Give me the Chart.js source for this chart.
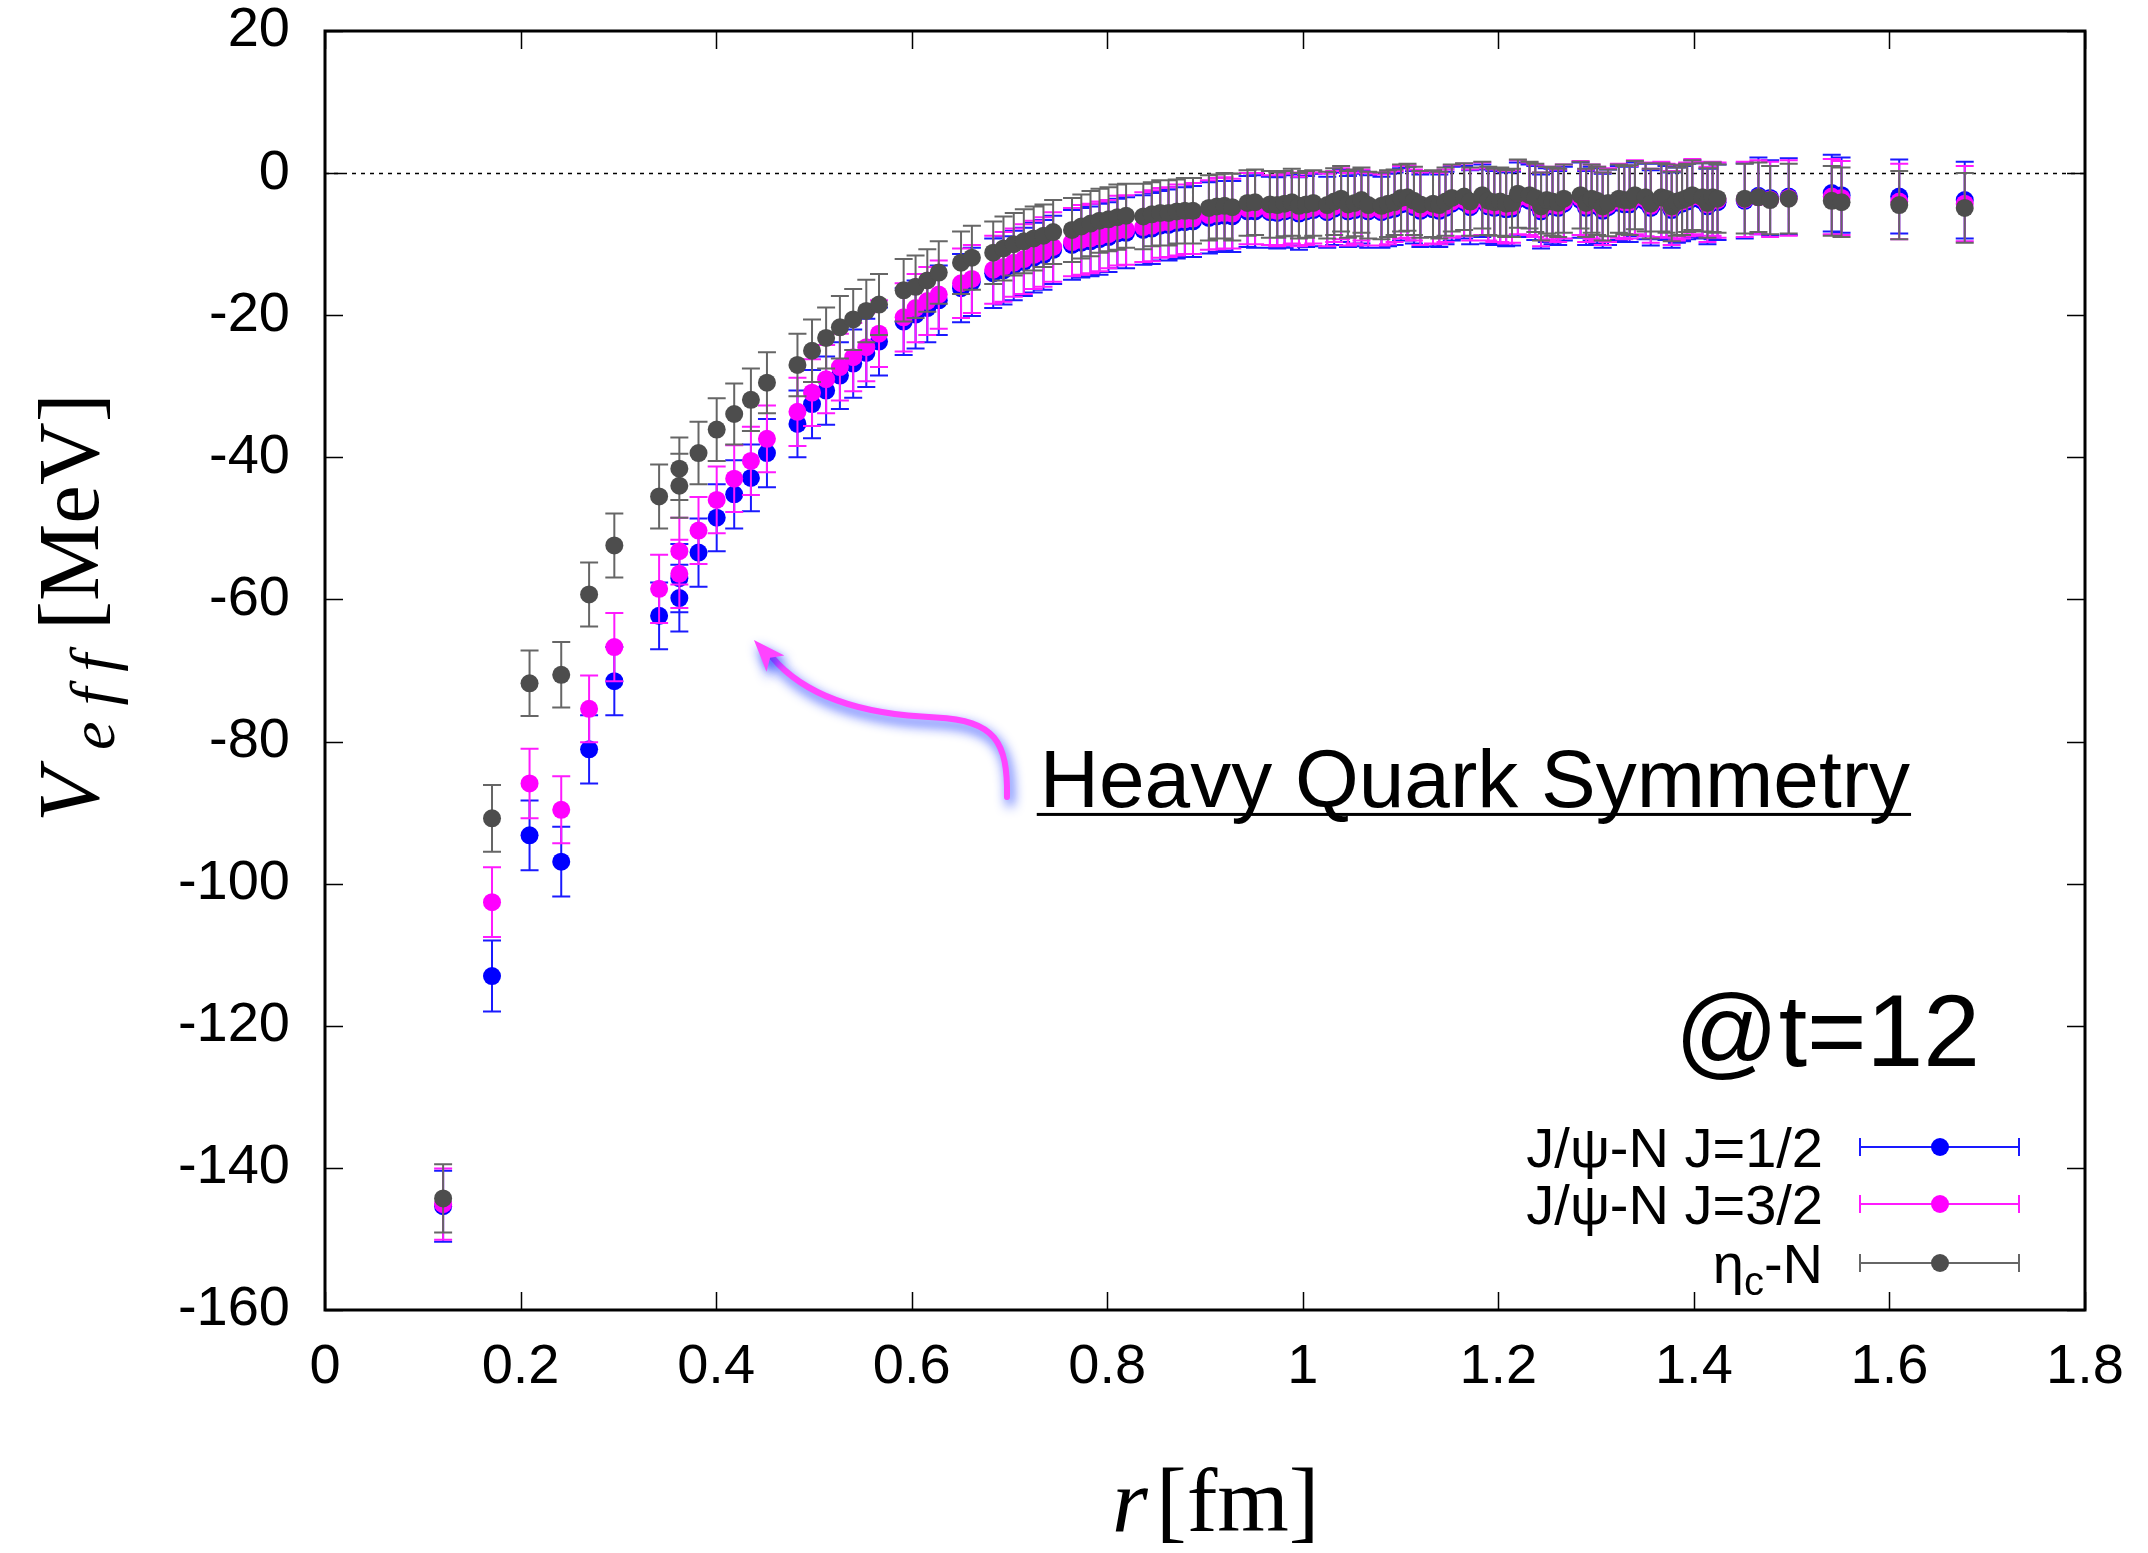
<!DOCTYPE html>
<html><head><meta charset="utf-8">
<script src="https://cdn.jsdelivr.net/npm/chart.js@4.4.0/dist/chart.umd.min.js"></script>
<style>html,body{margin:0;padding:0;background:#fff;}canvas{display:block;}</style>
</head><body>
<canvas id="c" width="2148" height="1553" style="width:2148px;height:1553px"></canvas>
<script>
// ---------- data ----------
const r = [
0.1208,0.1708,0.2092,0.2416,0.2701,0.2959,0.3417,0.3624,0.3624,0.3820,
0.4006,0.4185,0.4356,0.4520,0.4832,0.4981,0.5125,0.5266,0.5402,0.5536,
0.5666,0.5918,0.6040,0.6160,0.6277,0.6505,0.6616,0.6834,0.6939,0.7044,
0.7147,0.7248,0.7348,0.7447,0.7640,0.7735,0.7829,0.7921,0.8013,0.8104,
0.8193,0.8369,0.8456,0.8542,0.8627,0.8711,0.8794,0.8877,0.9040,0.9120,
0.9200,0.9279,0.9435,0.9512,0.9664,0.9739,0.9814,0.9888,0.9961,1.0034,
1.0107,1.0250,1.0321,1.0392,1.0462,1.0531,1.0600,1.0669,1.0805,1.0872,
1.0939,1.1005,1.1071,1.1137,1.1203,1.1332,1.1396,1.1460,1.1524,1.1650,
1.1712,1.1836,1.1897,1.1959,1.2019,1.2080,1.2140,1.2200,1.2319,1.2378,
1.2437,1.2496,1.2554,1.2612,1.2670,1.2841,1.2898,1.2954,1.3011,1.3067,
1.3122,1.3233,1.3288,1.3343,1.3397,1.3506,1.3559,1.3667,1.3720,1.3773,
1.3826,1.3879,1.3931,1.3984,1.4088,1.4139,1.4191,1.4242,1.452,1.466,
1.478,1.497,1.541,1.551,1.610,1.677];

const vJ12 = [
-145.4,-113.0,-93.2,-96.9,-81.1,-71.5,-62.3,-57.0,-59.8,-53.4,
-48.5,-45.2,-42.9,-39.4,-35.3,-32.5,-30.6,-28.5,-26.8,-25.3,
-23.7,-20.9,-19.9,-19.0,-17.9,-16.2,-15.3,-14.1,-13.7,-13.0,
-12.5,-11.9,-11.5,-10.8,-10.1,-9.8,-9.6,-9.3,-9.0,-8.5,
-8.4,-8.0,-7.8,-7.4,-7.3,-7.0,-6.9,-6.8,-6.3,-6.1,
-6.0,-6.1,-5.4,-5.4,-5.5,-5.6,-5.4,-5.2,-5.7,-5.4,
-5.2,-5.5,-5.0,-4.6,-5.4,-5.2,-4.8,-5.4,-5.5,-5.2,
-5.0,-4.4,-4.3,-4.8,-5.3,-5.1,-5.3,-4.9,-4.3,-4.1,
-4.8,-3.9,-4.7,-4.9,-4.8,-5.1,-5.0,-3.7,-3.9,-4.2,
-5.4,-4.5,-4.7,-4.9,-4.3,-3.8,-4.9,-4.3,-4.6,-5.3,
-4.8,-4.2,-4.4,-4.4,-3.7,-4.0,-4.9,-4.0,-4.2,-5.2,
-4.5,-4.3,-4.0,-3.6,-3.9,-4.7,-3.9,-4.1,-3.9,-3.2,
-3.5,-3.3,-2.8,-3.1,-3.3,-3.8];
const eJ12 = [
5.0,5.0,4.9,4.9,4.8,4.8,4.7,4.8,4.7,4.8,
4.7,4.8,4.7,4.8,4.7,4.8,4.8,4.7,4.8,4.8,
4.8,4.7,4.8,4.8,4.9,4.8,4.8,4.9,4.8,4.9,
4.8,4.9,4.9,4.8,4.9,4.9,4.9,5.0,4.9,4.9,
5.0,4.9,5.0,4.9,5.0,5.0,4.9,5.0,5.0,5.0,
4.9,5.0,5.0,5.1,5.0,5.0,5.1,5.0,5.1,5.0,
5.1,5.0,5.1,5.1,5.0,5.1,5.1,5.1,5.0,5.1,
5.1,5.1,5.2,5.1,5.1,5.2,5.1,5.1,5.2,5.1,
5.2,5.1,5.2,5.2,5.1,5.2,5.2,5.2,5.1,5.2,
5.2,5.2,5.3,5.2,5.2,5.3,5.2,5.2,5.3,5.2,
5.3,5.2,5.3,5.3,5.2,5.3,5.3,5.3,5.2,5.3,
5.3,5.3,5.3,5.4,5.3,5.3,5.4,5.3,5.3,5.4,
5.3,5.4,5.4,5.3,5.2,5.4];

const vJ32 = [
-145.1,-102.6,-85.9,-89.6,-75.4,-66.7,-58.5,-53.2,-56.4,-50.3,
-46.0,-43.0,-40.5,-37.4,-33.6,-30.9,-29.0,-27.3,-25.9,-24.5,
-22.6,-20.3,-19.0,-18.0,-17.1,-15.5,-14.9,-13.6,-13.2,-12.6,
-12.1,-11.5,-11.1,-10.4,-9.7,-9.4,-9.2,-8.9,-8.6,-8.1,
-8.0,-7.6,-7.4,-7.0,-6.9,-6.6,-6.5,-6.4,-5.9,-5.7,
-5.6,-5.7,-5.0,-5.0,-5.2,-5.3,-5.1,-4.9,-5.4,-5.1,
-4.9,-5.2,-4.7,-4.3,-5.1,-4.9,-4.5,-5.1,-5.2,-4.9,
-4.7,-4.1,-4.0,-4.5,-5.0,-4.8,-5.0,-4.6,-4.0,-3.8,
-4.5,-3.6,-4.4,-4.6,-4.5,-4.8,-4.7,-3.4,-3.6,-3.9,
-5.1,-4.2,-4.4,-4.6,-4.0,-3.5,-4.6,-4.0,-4.3,-5.0,
-4.5,-3.9,-4.1,-4.1,-3.4,-3.7,-4.6,-3.7,-3.9,-4.9,
-4.2,-4.0,-3.7,-3.3,-3.6,-4.4,-3.6,-3.8,-3.7,-3.4,
-3.7,-3.5,-3.3,-3.5,-4.0,-4.3];
const eJ32 = [
5.0,4.9,4.9,4.7,4.7,4.8,4.8,4.7,4.8,4.7,
4.7,4.7,4.8,4.7,4.8,4.7,4.8,4.7,4.8,4.8,
4.7,4.8,4.8,4.8,4.8,4.9,4.8,4.8,4.9,4.8,
4.9,4.8,4.9,4.9,4.8,4.9,4.9,4.9,4.8,4.9,
4.9,4.9,5.0,4.9,4.9,5.0,4.9,5.0,4.9,5.0,
5.0,4.9,5.0,5.0,4.9,5.0,5.0,5.0,4.9,5.0,
5.0,5.1,5.0,5.0,5.1,5.0,5.0,5.1,5.0,5.1,
5.0,5.1,5.1,5.0,5.1,5.1,5.0,5.1,5.1,5.1,
5.0,5.1,5.1,5.1,5.2,5.1,5.1,5.2,5.1,5.1,
5.2,5.1,5.2,5.1,5.2,5.2,5.1,5.2,5.2,5.1,
5.2,5.2,5.2,5.1,5.2,5.2,5.2,5.3,5.2,5.2,
5.3,5.2,5.2,5.3,5.2,5.3,5.2,5.3,5.3,5.2,
5.3,5.3,5.3,5.2,5.3,5.3];

const vEta = [
-144.3,-90.8,-71.8,-70.6,-59.3,-52.4,-45.5,-41.6,-44.0,-39.4,
-36.1,-33.9,-31.9,-29.5,-27.0,-25.0,-23.2,-21.7,-20.6,-19.4,
-18.5,-16.5,-16.0,-15.1,-14.0,-12.6,-11.9,-11.2,-10.6,-10.0,
-9.6,-9.2,-8.8,-8.3,-8.0,-7.5,-7.1,-6.7,-6.5,-6.2,
-6.0,-6.1,-5.8,-5.6,-5.6,-5.4,-5.3,-5.3,-4.9,-4.7,
-4.6,-4.8,-4.2,-4.1,-4.4,-4.5,-4.3,-4.1,-4.6,-4.4,
-4.2,-4.5,-4.0,-3.6,-4.4,-4.2,-3.8,-4.5,-4.6,-4.3,
-4.1,-3.5,-3.4,-3.9,-4.4,-4.3,-4.5,-4.0,-3.5,-3.3,
-4.0,-3.1,-3.9,-4.1,-4.0,-4.3,-4.2,-2.9,-3.1,-3.5,
-4.7,-3.8,-4.0,-4.2,-3.6,-3.1,-4.2,-3.6,-3.9,-4.7,
-4.2,-3.6,-3.8,-3.8,-3.1,-3.4,-4.3,-3.4,-3.6,-4.7,
-4.0,-3.8,-3.5,-3.1,-3.4,-4.2,-3.4,-3.6,-3.6,-3.4,
-3.8,-3.6,-3.9,-4.1,-4.5,-4.9];
const eEta = [
4.8,4.7,4.6,4.6,4.5,4.5,4.5,4.4,4.5,4.4,
4.4,4.3,4.4,4.3,4.4,4.4,4.3,4.4,4.3,4.4,
4.3,4.4,4.4,4.4,4.4,4.4,4.5,4.4,4.5,4.4,
4.5,4.5,4.4,4.5,4.5,4.5,4.6,4.5,4.5,4.6,
4.5,4.6,4.5,4.6,4.6,4.5,4.6,4.6,4.6,4.5,
4.6,4.7,4.6,4.6,4.7,4.6,4.6,4.7,4.6,4.7,
4.6,4.7,4.7,4.6,4.7,4.7,4.6,4.7,4.7,4.7,
4.6,4.7,4.7,4.8,4.7,4.7,4.7,4.8,4.7,4.7,
4.8,4.7,4.8,4.7,4.8,4.7,4.8,4.8,4.7,4.8,
4.8,4.7,4.8,4.8,4.8,4.7,4.8,4.8,4.8,4.8,
4.7,4.8,4.8,4.9,4.8,4.8,4.9,4.8,4.8,4.9,
4.8,4.9,4.8,4.9,4.8,4.9,4.9,4.8,4.9,4.9,
4.8,4.9,4.9,4.9,4.8,4.9];

const seriesNames  = ['J/ψ-N J=1/2', 'J/ψ-N J=3/2', 'η_c-N'];
const seriesColors = ['#0000ff', '#ff00ff', '#4d4d4d'];
const errColors    = ['#1a1aff', '#ff1aff', '#666666'];

const xTickValues = [0, 0.2, 0.4, 0.6, 0.8, 1, 1.2, 1.4, 1.6, 1.8];
const xTickLabels = ['0', '0.2', '0.4', '0.6', '0.8', '1', '1.2', '1.4', '1.6', '1.8'];
const yTickValues = [-160, -140, -120, -100, -80, -60, -40, -20, 0, 20];
const yTickLabels = ['-160', '-140', '-120', '-100', '-80', '-60', '-40', '-20', '0', '20'];

const noteText = 'Heavy Quark Symmetry';
const noteAt = {x: 0.731, y: -89.2};
const timeText = '@t=12';
const timeAt = {x: 1.6926, y: -125.7};
// arrow (data coordinates): start, two cubic segments, tip
const arrowStart = {x: 0.6975, y: -87.8};
const arrowSeg = [
  [{x: 0.6985, y: -80.0}, {x: 0.685, y: -77.0}, {x: 0.625, y: -76.6}],
  [{x: 0.545, y: -76.2}, {x: 0.490, y: -73.5}, {x: 0.457, y: -68.1}]
];
const arrowTip = {x: 0.4387, y: -65.7};

// ---------- helpers ----------
const SANS = '"Liberation Sans", Arial, Helvetica, sans-serif';
const SERIF = '"Liberation Serif", "Times New Roman", serif';

function pts(vals) { return r.map((x, i) => ({x: x, y: vals[i]})); }

function drawRich(ctx, label, xRight, yBase, size) {
  const parts = [];
  const m = label.split('_');
  parts.push({t: m[0], sub: false});
  if (m.length > 1) {
    parts.push({t: m[1].charAt(0), sub: true});
    parts.push({t: m[1].slice(1), sub: false});
  }
  const fMain = size + 'px ' + SANS, fSub = Math.round(size * 0.72) + 'px ' + SANS;
  let w = 0;
  parts.forEach(p => { ctx.font = p.sub ? fSub : fMain; p.w = ctx.measureText(p.t).width; w += p.w; });
  let x = xRight - w;
  ctx.textAlign = 'left';
  ctx.textBaseline = 'alphabetic';
  parts.forEach(p => {
    ctx.font = p.sub ? fSub : fMain;
    ctx.fillText(p.t, x, yBase + (p.sub ? size * 0.22 : 0));
    x += p.w;
  });
}

const errPlugin = {
  id: 'errbars',
  beforeDatasetsDraw(chart) {
    const {ctx, chartArea: a, scales: {y: sy}} = chart;
    ctx.save();
    ctx.strokeStyle = '#000';
    ctx.lineWidth = 1.5;
    ctx.setLineDash([4, 5]);
    const y0 = Math.round(sy.getPixelForValue(0)) + 0.5;
    ctx.beginPath(); ctx.moveTo(a.left, y0); ctx.lineTo(a.right, y0); ctx.stroke();
    ctx.restore();
  },
  beforeDatasetDraw(chart, args) {
    const ds = chart.data.datasets[args.index];
    const {ctx, chartArea: a, scales: {x: sx, y: sy}} = chart;
    ctx.save();
    ctx.beginPath(); ctx.rect(a.left, a.top, a.right - a.left, a.bottom - a.top); ctx.clip();
    ctx.strokeStyle = ds.errColor;
    ctx.lineWidth = 2;
    ctx.beginPath();
    ds.data.forEach((p, i) => {
      const e = ds.errs[i];
      const px = sx.getPixelForValue(p.x);
      const y1 = sy.getPixelForValue(p.y + e), y2 = sy.getPixelForValue(p.y - e);
      ctx.moveTo(px, y1); ctx.lineTo(px, y2);
      ctx.moveTo(px - 9, y1); ctx.lineTo(px + 9, y1);
      ctx.moveTo(px - 9, y2); ctx.lineTo(px + 9, y2);
    });
    ctx.stroke();
    ctx.restore();
  },
  afterDraw(chart) {
    const {ctx, chartArea: a, scales: {x: sx, y: sy}} = chart;
    ctx.save();
    // inward ticks on all four sides
    ctx.strokeStyle = '#000';
    ctx.lineWidth = 1.5;
    ctx.beginPath();
    xTickValues.forEach(v => {
      const px = Math.round(sx.getPixelForValue(v)) + 0.5;
      ctx.moveTo(px, a.bottom); ctx.lineTo(px, a.bottom - 18);
      ctx.moveTo(px, a.top); ctx.lineTo(px, a.top + 18);
    });
    yTickValues.forEach(v => {
      const py = Math.round(sy.getPixelForValue(v)) + 0.5;
      ctx.moveTo(a.left, py); ctx.lineTo(a.left + 18, py);
      ctx.moveTo(a.right, py); ctx.lineTo(a.right - 18, py);
    });
    ctx.stroke();
    ctx.lineWidth = 3;
    ctx.strokeRect(a.left, a.top, a.right - a.left, a.bottom - a.top);

    // legend
    const rows = [1147, 1204, 1263];
    seriesNames.forEach((name, i) => {
      const yy = rows[i];
      ctx.fillStyle = '#000';
      drawRich(ctx, name, 1823, yy + 20, 56);
      ctx.strokeStyle = errColors[i];
      ctx.lineWidth = 2;
      ctx.beginPath();
      ctx.moveTo(1860, yy); ctx.lineTo(2019, yy);
      ctx.moveTo(1860, yy - 9); ctx.lineTo(1860, yy + 9);
      ctx.moveTo(2019, yy - 9); ctx.lineTo(2019, yy + 9);
      ctx.stroke();
      ctx.fillStyle = seriesColors[i];
      ctx.beginPath(); ctx.arc(1940, yy, 9, 0, Math.PI * 2); ctx.fill();
    });

    // @t=12
    ctx.fillStyle = '#000';
    ctx.font = '102px ' + SANS;
    ctx.textAlign = 'right'; ctx.textBaseline = 'alphabetic';
    ctx.fillText(timeText, sx.getPixelForValue(timeAt.x), sy.getPixelForValue(timeAt.y));

    // Heavy Quark Symmetry (underlined)
    ctx.font = '82px ' + SANS;
    ctx.textAlign = 'left';
    const nx = sx.getPixelForValue(noteAt.x), ny = sy.getPixelForValue(noteAt.y);
    ctx.fillText(noteText, nx, ny);
    const tw = ctx.measureText(noteText).width;
    ctx.fillRect(nx - 3, ny + 6, tw + 4, 3);

    // arrow with blue glow
    const P = p => [sx.getPixelForValue(p.x), sy.getPixelForValue(p.y)];
    ctx.save();
    ctx.shadowColor = 'rgba(30,60,255,0.95)';
    ctx.shadowBlur = 12;
    ctx.shadowOffsetX = 3;
    ctx.shadowOffsetY = 6;
    ctx.strokeStyle = '#ff44ff';
    ctx.fillStyle = '#ff44ff';
    ctx.lineWidth = 6;
    ctx.lineCap = 'round';
    ctx.beginPath();
    const s = P(arrowStart);
    ctx.moveTo(s[0], s[1]);
    arrowSeg.forEach(seg => {
      const c1 = P(seg[0]), c2 = P(seg[1]), e = P(seg[2]);
      ctx.bezierCurveTo(c1[0], c1[1], c2[0], c2[1], e[0], e[1]);
    });
    ctx.stroke();
    const tip = P(arrowTip);
    const last = P(arrowSeg[1][1]);
    let dx = tip[0] - last[0], dy = tip[1] - last[1];
    const L = Math.hypot(dx, dy); dx /= L; dy /= L;
    const bx = tip[0] - dx * 32, by = tip[1] - dy * 32;
    ctx.beginPath();
    ctx.moveTo(tip[0], tip[1]);
    ctx.lineTo(bx - dy * 12, by + dx * 12);
    ctx.lineTo(tip[0] - dx * 24, tip[1] - dy * 24);
    ctx.lineTo(bx + dy * 12, by - dx * 12);
    ctx.closePath();
    ctx.fill();
    ctx.restore();

    // axis titles
    ctx.fillStyle = '#000';
    ctx.textAlign = 'left'; ctx.textBaseline = 'alphabetic';
    ctx.font = 'italic 92px ' + SERIF;
    ctx.fillText('r', 1112, 1531);
    ctx.font = '92px ' + SERIF;
    ctx.fillText('[fm]', 1156, 1531);

    ctx.save();
    ctx.translate(98, 822);
    ctx.rotate(-Math.PI / 2);
    ctx.font = 'italic 87px ' + SERIF;
    ctx.fillText('V', 0, 0);
    ctx.font = 'italic 64px ' + SERIF;
    let qx = 72;
    ['e', 'f', 'f'].forEach(ch => { ctx.fillText(ch, qx, 16); qx += ctx.measureText(ch).width + 16; });
    ctx.font = '87px ' + SERIF;
    ctx.fillText('[MeV]', 192, 0);
    ctx.restore();

    ctx.restore();
  }
};

const valsList = [vJ12, vJ32, vEta];
const errsList = [eJ12, eJ32, eEta];
const datasets = seriesNames.map((name, i) => ({
  label: name,
  data: pts(valsList[i]),
  errs: errsList[i],
  errColor: errColors[i],
  backgroundColor: seriesColors[i],
  borderColor: seriesColors[i],
  pointRadius: 9,
  pointHoverRadius: 9,
  pointBorderWidth: 0,
  showLine: false,
  order: 3 - i
}));

new Chart(document.getElementById('c'), {
  type: 'scatter',
  data: {datasets},
  options: {
    responsive: false,
    animation: false,
    devicePixelRatio: 1,
    layout: {padding: {top: 31, right: 63, left: 0, bottom: 0}},
    plugins: {legend: {display: false}, tooltip: {enabled: false}},
    scales: {
      x: {
        type: 'linear', min: 0, max: 1.8,
        afterBuildTicks: s => { s.ticks = xTickValues.map(v => ({value: v})); },
        afterFit: s => { s.height = 243; s.paddingLeft = 0; s.paddingRight = 0; },
        grid: {display: false, drawTicks: false},
        border: {display: false},
        ticks: {
          padding: 24, autoSkip: false, maxRotation: 0, minRotation: 0,
          color: '#000', font: {family: SANS, size: 56},
          callback: (v, i) => xTickLabels[i]
        }
      },
      y: {
        type: 'linear', min: -160, max: 20,
        afterBuildTicks: s => { s.ticks = yTickValues.map(v => ({value: v})); },
        afterFit: s => { s.width = 325; s.paddingTop = 0; s.paddingBottom = 0; },
        grid: {display: false, drawTicks: false},
        border: {display: false},
        ticks: {
          padding: 35, autoSkip: false,
          color: '#000', font: {family: SANS, size: 56},
          callback: (v, i) => yTickLabels[i]
        }
      }
    }
  },
  plugins: [errPlugin]
});
</script>
</body></html>
